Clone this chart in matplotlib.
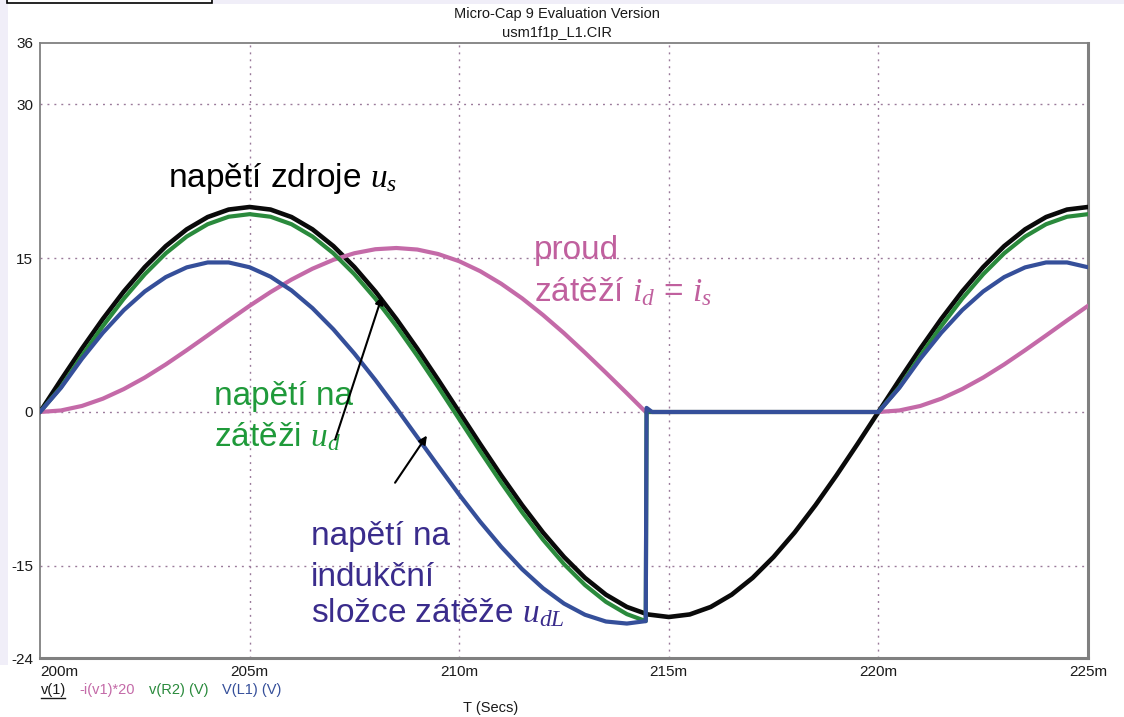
import matplotlib
matplotlib.use("Agg")
import matplotlib.pyplot as plt
from matplotlib.patches import Rectangle

plt.rcParams['font.family'] = ['Liberation Sans', 'DejaVu Sans']
plt.rcParams['axes.unicode_minus'] = False
plt.rcParams['mathtext.fontset'] = 'custom'
plt.rcParams['mathtext.it'] = 'Liberation Serif:italic'
plt.rcParams['mathtext.rm'] = 'Liberation Sans'

# time axis, ms
t = [200.0, 200.5, 201.0, 201.5, 202.0, 202.5, 203.0, 203.5, 204.0, 204.5,
     205.0, 205.5, 206.0, 206.5, 207.0, 207.5, 208.0, 208.5, 209.0, 209.5,
     210.0, 210.5, 211.0, 211.5, 212.0, 212.5, 213.0, 213.5, 214.0, 214.5,
     215.0, 215.5, 216.0, 216.5, 217.0, 217.5, 218.0, 218.5, 219.0, 219.5,
     220.0, 220.5, 221.0, 221.5, 222.0, 222.5, 223.0, 223.5, 224.0, 224.5,
     225.0]

# v(1): source voltage u_s
v_src = [0.0, 3.13, 6.18, 9.08, 11.76, 14.14, 16.18, 17.82, 19.02, 19.75,
         20.0, 19.75, 19.02, 17.82, 16.18, 14.14, 11.76, 9.08, 6.18, 3.13,
         0.0, -3.13, -6.18, -9.08, -11.76, -14.14, -16.18, -17.82, -19.02, -19.75,
         -20.0, -19.75, -19.02, -17.82, -16.18, -14.14, -11.76, -9.08, -6.18, -3.13,
         0.0, 3.13, 6.18, 9.08, 11.76, 14.14, 16.18, 17.82, 19.02, 19.75,
         20.0]

# samples for the load traces (diode conducts until ~214.45 ms, blocks until 220 ms)
t_load = [200.0, 200.5, 201.0, 201.5, 202.0, 202.5, 203.0, 203.5, 204.0, 204.5,
          205.0, 205.5, 206.0, 206.5, 207.0, 207.5, 208.0, 208.5, 209.0, 209.5,
          210.0, 210.5, 211.0, 211.5, 212.0, 212.5, 213.0, 213.5, 214.0, 214.45,
          214.47, 214.6, 220.0, 220.5, 221.0, 221.5, 222.0, 222.5, 223.0, 223.5,
          224.0, 224.5, 225.0]

# -i(v1)*20: load current i_d = i_s
i_load = [0.0, 0.15, 0.59, 1.30, 2.24, 3.36, 4.64, 6.03, 7.47, 8.93,
          10.36, 11.70, 12.92, 13.98, 14.85, 15.49, 15.88, 16.00, 15.85, 15.41,
          14.71, 13.74, 12.52, 11.09, 9.46, 7.69, 5.79, 3.83, 1.83, 0.0,
          0.0, 0.0, 0.0, 0.15, 0.59, 1.30, 2.24, 3.36, 4.64, 6.03,
          7.47, 8.93, 10.36]

# v(R2): load voltage u_d
v_load = [0.0, 2.43, 5.48, 8.38, 11.06, 13.44, 15.48, 17.12, 18.32, 19.05,
          19.30, 19.05, 18.32, 17.12, 15.48, 13.44, 11.06, 8.38, 5.48, 2.43,
          -0.70, -3.83, -6.88, -9.78, -12.46, -14.84, -16.88, -18.52, -19.72, -20.40,
          0.0, 0.0, 0.0, 2.43, 5.48, 8.38, 11.06, 13.44, 15.48, 17.12,
          18.32, 19.05, 19.30]

# V(L1): inductor voltage u_dL
v_ind = [0.0, 2.36, 5.19, 7.73, 9.94, 11.76, 13.16, 14.11, 14.59, 14.59,
         14.12, 13.20, 11.86, 10.13, 8.06, 5.70, 3.12, 0.38, -2.45, -5.28,
         -8.06, -10.70, -13.14, -15.33, -17.19, -18.69, -19.78, -20.44, -20.64, -20.40,
         0.40, 0.0, 0.0, 2.36, 5.19, 7.73, 9.94, 11.76, 13.16, 14.11,
         14.59, 14.59, 14.12]

x_ticks = [200, 205, 210, 215, 220, 225]
x_labels = ['200m', '205m', '210m', '215m', '220m', '225m']
y_ticks = [-24, -15, 0, 15, 30, 36]
y_labels = ['-24', '-15', '0', '15', '30', '36']

c_src = '#0a0a0a'
c_cur = '#c46aa8'
c_load = '#2a8a3c'
c_ind = '#354f9a'
c_txt_ind = '#3a2c8c'
c_txt_load = '#1f9a3a'
c_txt_cur = '#c0609e'

W, H = 1124, 717
fig = plt.figure(figsize=(W / 100, H / 100), dpi=100, facecolor='white')

# window chrome around the plot
lav = '#f0eef8'
fig.patches.append(Rectangle((0, 52 / H), 8 / W, 1 - 52 / H, transform=fig.transFigure,
                             facecolor=lav, edgecolor='none', zorder=0))
fig.patches.append(Rectangle((213 / W, 1 - 4 / H), 1, 4 / H, transform=fig.transFigure,
                             facecolor=lav, edgecolor='none', zorder=0))
fig.patches.append(Rectangle((7 / W, 1 - 3 / H), 205 / W, 10 / H, transform=fig.transFigure,
                             facecolor='white', edgecolor='black', lw=1.2, zorder=1))

ax = fig.add_axes([40 / W, 1 - 658 / H, 1048 / W, 615 / H])
ax.set_xlim(200, 225)
ax.set_ylim(-24, 36)

grid_style = dict(color='#9a7a9a', lw=1.0, linestyle=(0, (1.4, 3.6)), zorder=1)
for xv in x_ticks[1:-1]:
    ax.axvline(xv, **grid_style)
for yv in y_ticks[1:-1]:
    ax.axhline(yv, **grid_style)

line_kw = dict(solid_capstyle='round', solid_joinstyle='round')
ax.plot(t, v_src, color=c_src, lw=3.3, zorder=3, **line_kw)
ax.plot(t_load, i_load, color=c_cur, lw=3.0, zorder=3, **line_kw)
ax.plot(t_load, v_load, color=c_load, lw=3.0, zorder=3, **line_kw)
ax.plot(t_load, v_ind, color=c_ind, lw=3.0, zorder=4, **line_kw)

ax.set_xticks(x_ticks)
ax.set_xticklabels(x_labels)
ax.set_yticks(y_ticks)
ax.set_yticklabels(y_labels)
ax.tick_params(length=0, labelsize=11, colors='#1a1a1a', pad=5)
ax.get_xticklabels()[0].set_horizontalalignment('left')

for side in ['left', 'top']:
    ax.spines[side].set_color('#808080')
    ax.spines[side].set_linewidth(1.3)
for side in ['right', 'bottom']:
    ax.spines[side].set_color('#808080')
    ax.spines[side].set_linewidth(2.2)

# header
fig.text(557 / W, 1 - 14 / H, 'Micro-Cap 9 Evaluation Version', ha='center', va='center',
         fontsize=10.5, color='#1a1a1a')
fig.text(557 / W, 1 - 33 / H, 'usm1f1p_L1.CIR', ha='center', va='center',
         fontsize=10.5, color='#1a1a1a')

# trace legend and axis title
fig.text(41 / W, 1 - 690 / H, 'v(1)', ha='left', va='center', fontsize=10.5, color='#1a1a1a')
fig.add_artist(plt.Line2D([41 / W, 65 / W], [1 - 698 / H, 1 - 698 / H], color='#1a1a1a', lw=1))
fig.text(79 / W, 1 - 690 / H, '-i(v1)*20', ha='left', va='center', fontsize=10.5, color=c_cur)
fig.text(149 / W, 1 - 690 / H, 'v(R2) (V)', ha='left', va='center', fontsize=10.5, color=c_load)
fig.text(222 / W, 1 - 690 / H, 'V(L1) (V)', ha='left', va='center', fontsize=10.5, color=c_ind)
fig.text(463 / W, 1 - 708 / H, 'T (Secs)', ha='left', va='center', fontsize=10.5, color='#1a1a1a')

# annotations
big = 24
ax.text(203.05, 21.95, r'napětí zdroje $u_s$', fontsize=big, color='black', va='baseline', zorder=6)
ax.text(211.78, 14.9, 'proud', fontsize=big, color=c_txt_cur, va='baseline', zorder=6)
ax.text(211.78, 10.8, r'zátěží $i_d$ = $i_s$', fontsize=big, color=c_txt_cur, va='baseline', zorder=6)
ax.text(204.15, 0.7, 'napětí na', fontsize=big, color=c_txt_load, va='baseline', zorder=6)
ax.text(204.15, -3.3, r'zátěži $u_d$', fontsize=big, color=c_txt_load, va='baseline', zorder=6)
ax.text(206.46, -13.0, 'napětí na', fontsize=big, color=c_txt_ind, va='baseline', zorder=6)
ax.text(206.46, -17.0, 'indukční', fontsize=big, color=c_txt_ind, va='baseline', zorder=6)
ax.text(206.46, -20.5, r'složce zátěže $u_{dL}$', fontsize=big, color=c_txt_ind, va='baseline', zorder=6)

arrow = dict(arrowstyle='-|>', color='black', lw=1.5, mutation_scale=12, shrinkA=0, shrinkB=0)
ax.annotate('', xy=(208.16, 11.3), xytext=(207.04, -2.7), arrowprops=arrow, zorder=6)
ax.annotate('', xy=(209.23, -2.3), xytext=(208.47, -6.9), arrowprops=arrow, zorder=6)

fig.savefig('out.png', dpi=100, facecolor='white')
